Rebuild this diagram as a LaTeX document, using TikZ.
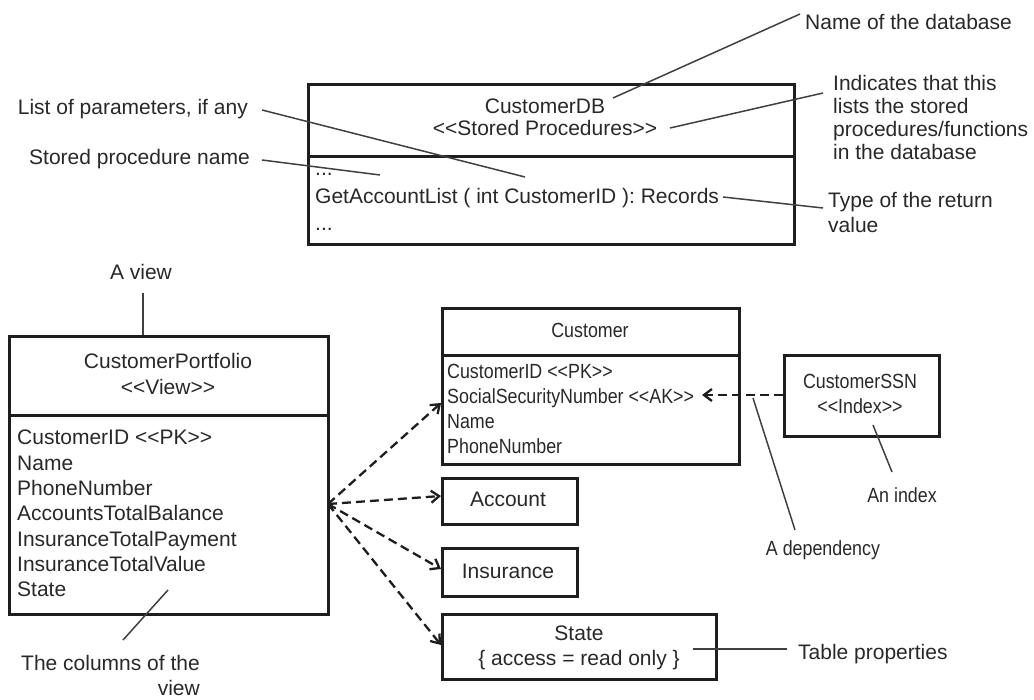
\documentclass[tikz,border=0pt]{standalone}
\usepackage{fontspec}
\newfontfamily\uf{Liberation Sans}
\newfontfamily\ufc{Liberation Sans}[FakeStretch=0.87]
\usetikzlibrary{arrows.meta}
\definecolor{ink}{RGB}{30,30,30}
\definecolor{txt}{RGB}{40,40,40}
\begin{document}
\begin{tikzpicture}[x=1pt,y=-1pt,
  box/.style={draw=ink, line width=2.6pt, inner sep=0pt, anchor=north west},
  t/.style={inner sep=0pt, text=txt, font=\uf\fontsize{21}{25}\selectfont},
  ts/.style={inner sep=0pt, text=txt, font=\ufc\fontsize{20.5}{25}\selectfont},
  lead/.style={draw=ink!85, line width=1.5pt},
  dep/.style={draw=ink, line width=2.3pt, dash pattern=on 9pt off 5pt, -{Straight Barb[length=8pt,width=12pt]}},
]
\useasboundingbox (0,0) rectangle (1034,700);

% ---------- CustomerDB ----------
\node[box, minimum width=486pt, minimum height=72pt] (dbh) at (307,83) {};
\node[box, minimum width=486pt, minimum height=88pt] (dbb) at (307,155) {};
\node[t, anchor=base] (dbname) at (545,114) {CustomerDB};
\node[t, anchor=base] (dbst) at (545,136) {<<Stored Procedures>>};
\node[t, anchor=base west] (dbd1) at (315,176) {...};
\node[t, anchor=base west] (dbproc) at (315,204) {GetAccountList ( int CustomerID ): Records};
\node[t, anchor=base west] (dbd2) at (315,231) {...};

% ---------- CustomerPortfolio ----------
\node[box, minimum width=319pt, minimum height=79pt] (pfh) at (8,335) {};
\node[box, minimum width=319pt, minimum height=199pt] (pfb) at (8,414) {};
\node[t, anchor=base] (pfname) at (168,369) {CustomerPortfolio};
\node[t, anchor=base] (pfst) at (168,395) {<<View>>};
\foreach \n/\s [count=\i from 0] in {pf1/CustomerID <<PK>>, pf2/Name, pf3/PhoneNumber, pf4/AccountsTotalBalance, pf5/InsuranceTotalPayment, pf6/InsuranceTotalValue, pf7/State}
  \node[t, anchor=base west] (\n) at (17,445+25.3*\i) {\s};

% ---------- Customer ----------
\node[box, minimum width=297pt, minimum height=47pt] (cuh) at (441,307) {};
\node[box, minimum width=297pt, minimum height=109pt] (cub) at (441,354) {};
\node[ts, anchor=base] (cuname) at (590,338) {Customer};
\foreach \n/\s [count=\i from 0] in {cu1/CustomerID <<PK>>, cu2/SocialSecurityNumber <<AK>>, cu3/Name, cu4/PhoneNumber}
  \node[ts, anchor=base west] (\n) at (447,379+25*\i) {\s};

% ---------- CustomerSSN ----------
\node[box, minimum width=155pt, minimum height=81pt] (ssn) at (783,354) {};
\node[ts, anchor=base] (ssnname) at (860,389) {CustomerSSN};
\node[ts, anchor=base] (ssnst) at (860,414) {<<Index>>};

% ---------- Account, Insurance, State ----------
\node[box, minimum width=135pt, minimum height=46pt] (acc) at (441,477) {};
\node[t, anchor=base] (accname) at (508,507) {Account};
\node[box, minimum width=135pt, minimum height=48pt] (ins) at (441,547) {};
\node[t, anchor=base] (insname) at (508,578) {Insurance};
\node[box, minimum width=274pt, minimum height=65pt] (st) at (441,613) {};
\node[t, anchor=base] (stname) at (579,640) {State};
\node[t, anchor=base] (stprop) at (579,665) {\{ access = read only \}};

% ---------- Annotations ----------
\node[t, anchor=base west] (lname) at (805,30) {Name of the database};
\node[t, anchor=north west, align=left, font=\uf\fontsize{21}{23}\selectfont] (lind) at (833,75.5)
  {Indicates that this\\lists the stored\\procedures/functions\\in the database};
\node[t, anchor=north west, align=left] (ltype) at (828,192.5) {Type of the return\\value};
\node[t, anchor=base east] (lparam) at (248,115) {List of parameters, if any};
\node[t, anchor=base east] (lproc) at (250,165) {Stored procedure name};
\node[t, anchor=base] (lview) at (141,280) {A view};
\node[t, anchor=north east, align=right] (lcols) at (200,655.5) {The columns of the\\view};
\node[ts, anchor=base] (ldep) at (823,555) {A dependency};
\node[ts, anchor=base] (lidx) at (902,502) {An index};
\node[t, anchor=base west] (ltab) at (798,659) {Table properties};

% leader line end points
\coordinate (nA) at (800,14);   \coordinate (nB) at (613,98);
\coordinate (iA) at (823,93);   \coordinate (iB) at (670,128);
\coordinate (tA) at (823,208);  \coordinate (tB) at (723,197);
\coordinate (pA) at (262,110);  \coordinate (pB) at (525,177);
\coordinate (sA) at (262,160);  \coordinate (sB) at (380,175);
\coordinate (vA) at (143,293);
\coordinate (cA) at (123,640);  \coordinate (cB) at (168,590);
\coordinate (dA) at (795,530);  \coordinate (dB) at (753,398);
\coordinate (xA) at (892,472);  \coordinate (xB) at (873,425);
\coordinate (bA) at (787,649);  \coordinate (bB) at (693,649);

\draw[lead] (nA) -- (nB);
\draw[lead] (iA) -- (iB);
\draw[lead] (tA) -- (tB);
\draw[lead] (pA) -- (pB);
\draw[lead] (sA) -- (sB);
\draw[lead] (vA) -- (pfh.north -| vA);
\draw[lead] (cA) -- (cB);
\draw[lead] (dA) -- (dB);
\draw[lead] (xA) -- (xB);
\draw[lead] (bA) -- (bB);

% ---------- Dependencies ----------
\coordinate (hub) at (328,504);
\coordinate (akend) at (702,395);
\draw[dep] (hub) -- (cub.west |- 0,403);
\draw[dep] (hub) -- (acc.west |- 0,496);
\draw[dep] (hub) -- (ins.west |- 0,569);
\draw[dep] (hub) -- (st.west |- 0,645);
\draw[dep] (ssn.west |- 0,395) -- (akend);
\end{tikzpicture}
\end{document}
